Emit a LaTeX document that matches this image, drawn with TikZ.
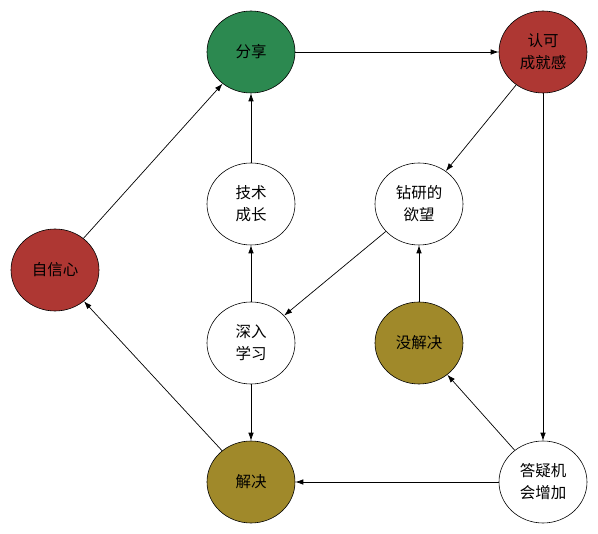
\documentclass[tikz,border=0pt]{standalone}
\usepackage{fontspec}
\newfontfamily\cjk{Noto Sans CJK SC}
\usetikzlibrary{shapes.geometric,arrows.meta}
\definecolor{sharegreen}{RGB}{44,137,80}
\definecolor{praisered}{RGB}{174,55,51}
\definecolor{solveolive}{RGB}{160,137,42}

\begin{document}
\begin{tikzpicture}[x=1pt,y=-1pt,>={Latex[length=8pt,width=5.5pt]},line width=0.7pt]
    \tikzstyle{vertex}=[ellipse,draw=black,line width=0.6pt,minimum width=88pt,minimum height=82pt,inner sep=0pt,align=center,font=\cjk\fontsize{15.5}{22}\selectfont]
    \useasboundingbox (0,0) rectangle (598,534);

    \foreach \name/\x/\y/\col/\txt in {share/251/52/sharegreen/分享, praise/543/52/praisered/认可\\成就感,
            tech/251/204/white/技术\\成长, want/419/204/white/钻研的\\欲望, self/55/270/praisered/自信心,
            deep/251/343/white/深入\\学习, unsolved/419/343/solveolive/没解决,
            solved/251/482/solveolive/解决, qa/543/482/white/答疑机\\会增加}
            \node[vertex,fill=\col] (V-\name) at (\x,\y) {\txt};

        \foreach \from/\to in {share/praise, praise/want, praise/qa, tech/share, self/share, want/deep,
                deep/tech, unsolved/want, deep/solved, solved/self, qa/unsolved, qa/solved}
            \draw[->] (V-\from) -- (V-\to);
\end{tikzpicture}
\end{document}
